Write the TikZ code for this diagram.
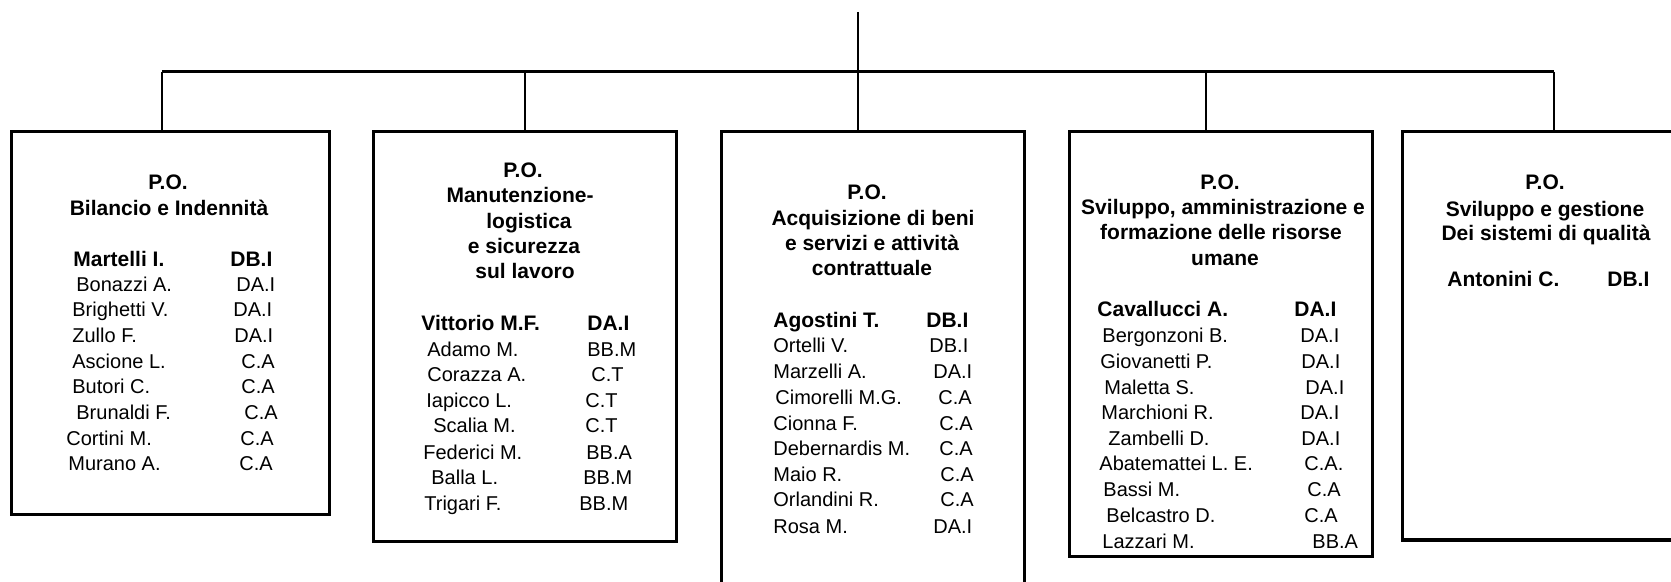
\documentclass[tikz,border=0pt]{standalone}
\usepackage{fontspec}
\setmainfont{Liberation Sans}
\usetikzlibrary{fit}
\begin{document}
\begin{tikzpicture}[x=0.5pt,y=-0.5pt,
  box/.style={draw=black, line width=1.5pt, inner sep=0pt, rectangle},
  conn/.style={draw=black, line width=1pt},
  barline/.style={draw=black, line width=1.5pt},
  ttl/.style={font=\fontsize{10.5}{12}\selectfont\bfseries, inner sep=0pt, anchor=base},
  ent/.style={font=\fontsize{10}{12}\selectfont, inner sep=0pt, anchor=base west},
  hd/.style={font=\fontsize{10.5}{12}\selectfont\bfseries, inner sep=0pt, anchor=base west}]
\useasboundingbox (0,0) rectangle (1671,582);
\fill[white] (0,0) rectangle (1671,582);
\clip (0,0) rectangle (1671,582);

% boxes
\node[box, fit={(11,132) (329,515)}] (b1) {};
\node[box, fit={(373,132) (676,541)}] (b2) {};
\node[box, fit={(721,132) (1024,600)}] (b3) {};
\node[box, fit={(1069,132) (1372,556)}] (b4) {};
\node[box, fit={(1402,132) (1705,540)}] (b5) {};

% connectors
\coordinate (top) at (858,12);
\coordinate (hub) at (858,72);
\coordinate (barL) at (162,72);
\coordinate (barR) at (1554,72);
\coordinate (d1) at (162,72);
\coordinate (d2) at (525,72);
\coordinate (d3) at (858,72);
\coordinate (d4) at (1206,72);
\coordinate (d5) at (1554,72);
\draw[conn] (top) -- (hub);
\draw[barline] (barL) -- (barR);
\draw[conn] (d1) -- (d1 |- b1.north);
\draw[conn] (d2) -- (d2 |- b2.north);
\draw[conn] (d3) -- (d3 |- b3.north);
\draw[conn] (d4) -- (d4 |- b4.north);
\draw[conn] (d5) -- (d5 |- b5.north);

% box 1
\node[ttl] (t1a) at (168,190) {P.O.};
\node[ttl] (t1b) at (169,216) {Bilancio e Indennità};
\node[hd] (h1n) at (73,267) {Martelli I.};
\node[hd] (h1c) at (230,267) {DB.I};
\foreach \i/\nx/\y/\n/\cx/\c in {1/76/292/Bonazzi A./236/DA.I, 2/72/317/Brighetti V./233/DA.I, 3/72/343/Zullo F./234/DA.I, 4/72/369/Ascione L./241/C.A, 5/72/394/Butori C./241/C.A, 6/76/420/Brunaldi F./244/C.A, 7/66/446/Cortini M./240/C.A, 8/68/471/Murano A./239/C.A}{
  \node[ent] (b1n\i) at (\nx,\y) {\n};
  \node[ent] (b1c\i) at (\cx,\y) {\c};
}

% box 2
\node[ttl] (t2a) at (523,178) {P.O.};
\node[ttl] (t2b) at (520,203) {Manutenzione-};
\node[ttl] (t2c) at (529,229) {logistica};
\node[ttl] (t2d) at (524,254) {e sicurezza};
\node[ttl] (t2e) at (525,279) {sul lavoro};
\node[hd] (h2n) at (421,331) {Vittorio M.F.};
\node[hd] (h2c) at (587,331) {DA.I};
\foreach \i/\nx/\y/\n/\cx/\c in {1/427/357/Adamo M./587/BB.M, 2/427/382/Corazza A./591/C.T, 3/426/408/Iapicco L./585/C.T, 4/433/433/Scalia M./585/C.T, 5/423/459/Federici M./586/BB.A, 6/431/485/Balla L./583/BB.M, 7/424/510/Trigari F./579/BB.M}{
  \node[ent] (b2n\i) at (\nx,\y) {\n};
  \node[ent] (b2c\i) at (\cx,\y) {\c};
}

% box 3
\node[ttl] (t3a) at (867,200) {P.O.};
\node[ttl] (t3b) at (873,226) {Acquisizione di beni};
\node[ttl] (t3c) at (872,251) {e servizi e attività};
\node[ttl] (t3d) at (872,276) {contrattuale};
\node[hd] (h3n) at (773,328) {Agostini T.};
\node[hd] (h3c) at (926,328) {DB.I};
\foreach \i/\nx/\y/\n/\cx/\c in {1/773/353/Ortelli V./929/DB.I, 2/773/379/Marzelli A./933/DA.I, 3/775/405/Cimorelli M.G./938/C.A, 4/773/431/Cionna F./939/C.A, 5/773/456/Debernardis M./939/C.A, 6/773/482/Maio R./940/C.A, 7/773/507/Orlandini R./940/C.A, 8/773/533/Rosa M./933/DA.I}{
  \node[ent] (b3n\i) at (\nx,\y) {\n};
  \node[ent] (b3c\i) at (\cx,\y) {\c};
}

% box 4
\node[ttl] (t4a) at (1220,190) {P.O.};
\node[ttl] (t4b) at (1223,215) {Sviluppo, amministrazione e};
\node[ttl] (t4c) at (1221,240) {formazione delle risorse};
\node[ttl] (t4d) at (1225,266) {umane};
\node[hd] (h4n) at (1097,317) {Cavallucci A.};
\node[hd] (h4c) at (1294,317) {DA.I};
\foreach \i/\nx/\y/\n/\cx/\c in {1/1102/343/Bergonzoni B./1300/DA.I, 2/1100/369/Giovanetti P./1301/DA.I, 3/1104/395/Maletta S./1305/DA.I, 4/1101/420/Marchioni R./1300/DA.I, 5/1108/446/Zambelli D./1301/DA.I, 6/1099/471/Abatemattei L. E./1304/C.A., 7/1103/497/Bassi M./1307/C.A, 8/1106/523/Belcastro D./1304/C.A, 9/1102/548/Lazzari M./1312/BB.A}{
  \node[ent] (b4n\i) at (\nx,\y) {\n};
  \node[ent] (b4c\i) at (\cx,\y) {\c};
}

% box 5
\node[ttl] (t5a) at (1545,190) {P.O.};
\node[ttl] (t5b) at (1545,217) {Sviluppo e gestione};
\node[ttl] (t5c) at (1546,241) {Dei sistemi di qualità};
\node[hd] (h5n) at (1447,287) {Antonini C.};
\node[hd] (h5c) at (1607,287) {DB.I};
\end{tikzpicture}
\end{document}
